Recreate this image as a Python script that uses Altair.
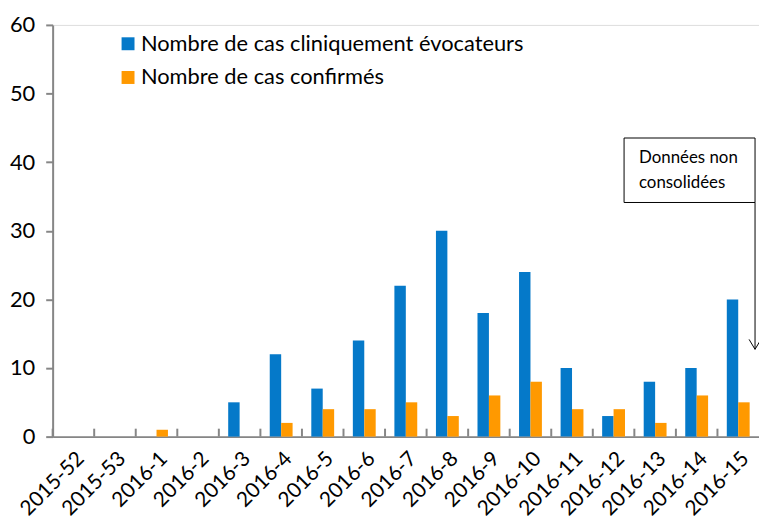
import altair as alt
import pandas as pd

weeks = ["2015-52", "2015-53", "2016-1", "2016-2", "2016-3", "2016-4", "2016-5", "2016-6",
         "2016-7", "2016-8", "2016-9", "2016-10", "2016-11", "2016-12", "2016-13", "2016-14", "2016-15"]
clinical = [0, 0, 0, 0, 5, 12, 7, 14, 22, 30, 18, 24, 10, 3, 8, 10, 20]
confirmed = [0, 0, 1, 0, 0, 2, 4, 4, 5, 3, 6, 8, 4, 4, 2, 6, 5]
series = ["Nombre de cas cliniquement évocateurs", "Nombre de cas confirmés"]
colors = ["#0579C9", "#FF9900"]
note = ["Données non", "consolidées"]

rows = []
for w, a, b in zip(weeks, clinical, confirmed):
    rows.append({"week": w, "series": series[0], "value": a})
    rows.append({"week": w, "series": series[1], "value": b})
df = pd.DataFrame(rows)
wk = pd.DataFrame({"week": weeks})
one = pd.DataFrame({"a": [0]})

FONT = "Lato"
W, H = 712, 415

bars = alt.Chart(df).mark_bar().encode(
    x=alt.X("week:N", sort=weeks,
            scale=alt.Scale(paddingInner=0.45, paddingOuter=0.225),
            axis=alt.Axis(title=None, labelAngle=-45, labelAlign="right", labelBaseline="top",
                          labelPadding=11, ticks=False, labelFontSize=21, labelFont=FONT,
                          labelColor="#000000", domainColor="#868686", domainWidth=2,
                          labelLimit=0)),
    xOffset=alt.XOffset("series:N", sort=series, scale=alt.Scale(paddingInner=0, paddingOuter=0)),
    y=alt.Y("value:Q", scale=alt.Scale(domain=[0, 60], nice=False),
            axis=alt.Axis(title=None, values=[0, 10, 20, 30, 40, 50, 60], grid=False,
                          tickSize=7, tickColor="#868686", tickWidth=2, domainColor="#868686",
                          domainWidth=2, labelFontSize=22, labelFont=FONT, labelColor="#000000",
                          labelPadding=11)),
    color=alt.Color("series:N", sort=series, scale=alt.Scale(domain=series, range=colors),
                    legend=alt.Legend(title=None, orient="none", legendX=65, legendY=8,
                                      symbolType="square", symbolSize=170, symbolStrokeWidth=0,
                                      labelFontSize=22, labelFont=FONT, labelColor="#000000",
                                      labelLimit=0, labelOffset=2,
                                      rowPadding=12, padding=0, symbolOpacity=1)),
)

ticks = alt.Chart(wk).mark_rule(color="#868686", strokeWidth=2).encode(
    x=alt.X("week:N", sort=weeks, bandPosition=0,
            scale=alt.Scale(paddingInner=0, paddingOuter=0), axis=None),
    y=alt.value(H - 8),
    y2=alt.value(H),
)

box = alt.Chart(one).mark_rect(fill="white", stroke="black", strokeWidth=1).encode(
    x=alt.value(576), x2=alt.value(708), y=alt.value(114), y2=alt.value(179)
)
box_text = alt.Chart(pd.DataFrame({"t": [note]})).mark_text(
    align="left", baseline="top", font=FONT, fontSize=17, color="black", lineHeight=25
).encode(x=alt.value(591), y=alt.value(126), text="t:N")

arrow_line = alt.Chart(one).mark_rule(color="black", strokeWidth=1).encode(
    x=alt.value(708), y=alt.value(179), y2=alt.value(327)
)
arrow_head = alt.Chart(one).mark_point(
    shape="M-0.6,-1L0,0L0.6,-1", size=400, filled=False, color="black", strokeWidth=1, opacity=1
).encode(x=alt.value(708), y=alt.value(327))

chart = alt.layer(bars, ticks, box, box_text, arrow_line, arrow_head).resolve_scale(
    x="independent"
).properties(
    width=W, height=H,
    autosize=alt.AutoSizeParams(type="none"),
    padding={"left": 45, "top": 15, "right": 0, "bottom": 83},
).configure_view(stroke=None).configure(background="white")

chart.save("out.html", embed_options={"renderer": "svg", "actions": False})
